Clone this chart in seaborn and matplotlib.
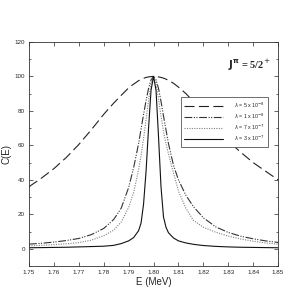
import matplotlib
matplotlib.use('Agg')
import matplotlib.pyplot as plt
from matplotlib.ticker import MultipleLocator
import seaborn as sns
import pandas as pd

# energies (MeV)
energy = [1.750, 1.755, 1.760, 1.765, 1.770, 1.775, 1.780, 1.784, 1.787, 1.790,
          1.792, 1.794, 1.795, 1.796, 1.797, 1.798, 1.799, 1.800, 1.801, 1.802,
          1.803, 1.804, 1.805, 1.806, 1.808, 1.810, 1.813, 1.816, 1.820, 1.825,
          1.830, 1.835, 1.840, 1.845, 1.850]

c_5e8 = [36, 41, 46.5, 53, 60.5, 69, 78, 84.5, 89, 93.3,
         95.5, 97.5, 98.2, 98.9, 99.4, 99.7, 99.9, 100, 99.9, 99.7,
         99.4, 99, 98.4, 97.7, 96, 93.8, 90, 85.5, 79, 70.5,
         62.5, 56, 50, 45, 40]
c_1e8 = [2.7, 3.2, 3.9, 4.8, 6.0, 8.2, 11.8, 17, 23.5, 35.5,
         47, 61, 69.5, 78, 86, 93, 98, 100, 98, 93,
         85.5, 77, 69, 61, 48.5, 40, 31, 24.5, 18, 12.7,
         9.5, 7.3, 5.8, 4.6, 3.7]
c_7e7 = [1.7, 2.0, 2.4, 2.9, 3.6, 5.0, 7.6, 10.8, 15.5, 24,
         32.5, 46, 54, 64, 75, 86, 96, 100, 96, 87,
         77, 68, 61, 55, 44, 33.5, 23.5, 16.5, 12.5, 9.6,
         7.4, 5.7, 4.4, 3.4, 2.7]
c_3e7 = [0.6, 0.7, 0.8, 0.9, 1.1, 1.3, 1.5, 2.0, 3.0, 4.6,
         6.5, 10.5, 15, 26, 45, 70, 92, 100, 92, 65,
         36, 18.5, 12.5, 9.3, 6.3, 4.6, 3.4, 2.6, 1.9, 1.4,
         1.1, 0.9, 0.8, 0.7, 0.6]

labels = [r'$\lambda$ = 5 x 10$^{-8}$', r'$\lambda$ = 1 x 10$^{-8}$',
          r'$\lambda$ = 7 x 10$^{-7}$', r'$\lambda$ = 3 x 10$^{-7}$']

df = pd.DataFrame({'E': energy * 4,
                   'C': c_5e8 + c_1e8 + c_7e7 + c_3e7,
                   'lam': sum([[l] * len(energy) for l in labels], [])})

sns.set_style('ticks')
plt.rcParams['font.family'] = ['Liberation Sans', 'DejaVu Sans']

fig, ax = plt.subplots(figsize=(2.93, 2.93), dpi=100)
fig.subplots_adjust(left=0.099, right=0.949, bottom=0.092, top=0.857)

styles = [dict(color='#222222', dashes=(9, 4)),
          dict(color='#333333', dashes=(7, 1.5, 1, 1.2, 1, 1.5)),
          dict(color='#808080', dashes=(1, 1.2)),
          dict(color='#111111', dashes=())]
for lab, st in zip(labels, styles):
    sub = df[df['lam'] == lab]
    sns.lineplot(data=sub, x='E', y='C', ax=ax, label=lab, lw=0.8,
                 color=st['color'])
    if st['dashes']:
        ax.lines[-1].set_dashes(st['dashes'])

ax.set_xlim(1.75, 1.85)
ax.set_ylim(-10, 120)
ax.xaxis.set_major_locator(MultipleLocator(0.01))
ax.yaxis.set_major_locator(MultipleLocator(20))
ax.yaxis.set_minor_locator(MultipleLocator(10))
ax.tick_params(which='both', direction='in', top=True, right=True,
               labelsize=4.5, width=0.5, length=2.8, pad=3)
ax.tick_params(which='minor', length=1.5)
ax.set_xticklabels([f'{v:.2f}' for v in ax.get_xticks()])
for s in ax.spines.values():
    s.set_linewidth(0.6)
    s.set_color('#333333')

ax.set_xlabel('E (MeV)', fontsize=7, labelpad=1)
ax.set_ylabel('C(E)', fontsize=7, labelpad=2)

ax.text(0.97, 0.897, r'$\mathbf{J^{\pi}}$ = 5/2$^{+}$', transform=ax.transAxes,
        ha='right', va='center', fontsize=7.5, fontweight='bold',
        family='Liberation Serif')

leg = ax.legend(loc='upper right', bbox_to_anchor=(0.96, 0.754), fontsize=3.8,
                frameon=True, fancybox=False, edgecolor='#555555', framealpha=1,
                handlelength=7.4, borderpad=0.7, labelspacing=0.35,
                handletextpad=1.9, borderaxespad=0)
leg.get_frame().set_linewidth(0.6)

fig.savefig('out.png', dpi=100)
